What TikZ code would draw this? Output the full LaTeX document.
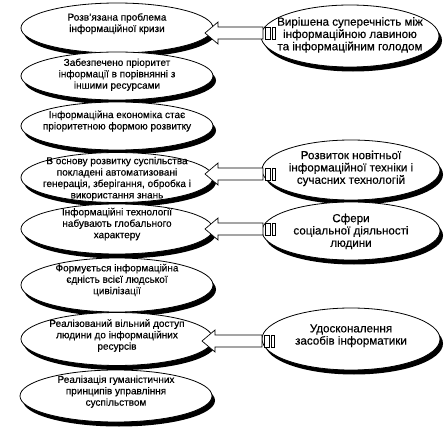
\documentclass[tikz,border=0pt]{standalone}
\usepackage{fontspec}
\setmainfont{Liberation Sans}[FakeBold=0.4]
\usetikzlibrary{shapes.geometric,shadows}
\newcommand\elltext[2][0pt]{\makebox[0pt]{\vbox to 0pt{\vss\hbox{\begin{tabular}{@{}c@{}}#2\end{tabular}}\vss\kern#1}}}
\newcommand\leftfont{\fontsize{10}{11.4}\selectfont}
\newcommand\rightfont{\fontsize{11.6}{12.3}\selectfont}
\newcommand\blockarrow[2][45]{%
  \draw[arrowline] (#2) -- ++(13,11) -- ++(0,-5) -- ++(#1,0) -- ++(0,-12) -- ++(-#1,0) -- ++(0,-5) -- cycle;
  \draw[arrowline] (#2) ++(#1+15.5,6) rectangle ++(5,-12) ++(1.5,12) rectangle ++(3,-12);}
\begin{document}
\begin{tikzpicture}[x=1pt,y=1pt,
  shad/.style={drop shadow={shadow xshift=3pt,shadow yshift=-4.5pt,fill=black,opacity=1}},
  lell/.style={ellipse,draw,fill=white,line width=0.8pt,inner sep=0pt,minimum width=192pt,font=\leftfont,shad},
  rell/.style={ellipse,draw,fill=white,line width=0.8pt,inner sep=0pt,minimum width=178pt,font=\rightfont,shad},
  arrowline/.style={draw=black,fill=white,line width=0.7pt,line join=miter}]
\useasboundingbox (0,0) rectangle (448,-439);
\node[lell,minimum height=50pt] (e1) at (117,-28) {\elltext[8pt]{Розв’язана проблема\\інформаційної кризи}};
\node[lell,minimum height=48pt] (e2) at (117,-76) {\elltext[2pt]{Забезпечено пріоритет\\інформації в порівнянні з\\іншими ресурсами}};
\node[lell,minimum height=48pt] (e3) at (117,-126) {\elltext[9pt]{Інформаційна економіка стає\\пріоритетною формою розвитку}};
\node[lell,minimum height=50pt] (e4) at (117,-177.5) {\elltext[-3pt]{В основу розвитку суспільства\\покладені автоматизовані\\генерація, зберігання, обробка і\\використання знань}};
\node[lell,minimum height=50pt] (e5) at (117,-229) {\elltext[9pt]{Інформаційні технології\\набувають глобального\\характеру}};
\node[lell,minimum height=54pt] (e6) at (117,-285) {\elltext[9pt]{Формується інформаційна\\єдність всієї людської\\цивілізації}};
\node[lell,minimum height=53pt] (e7) at (117,-339) {\elltext[6pt]{Реалізований вільний доступ\\людини до інформаційних\\ресурсів}};
\node[lell,minimum height=52pt] (e8) at (116,-396) {\elltext[8pt]{Реалізація гуманістичних\\принципів управління\\суспільством}};
\node[rell,minimum height=62pt] (r1) at (350,-36) {\elltext[1pt]{Вирішена суперечність між\\інформаційною лавиною\\та інформаційним голодом}};
\node[rell,minimum height=60pt] (r2) at (351,-170) {\elltext[2pt]{Розвиток новітньої\\інформаційної техніки і\\сучасних технологій}};
\node[rell,minimum height=58pt] (r3) at (351,-231) {\elltext[-2pt]{Сфери\\соціальної діяльності\\людини}};
\node[rell,minimum height=62pt] (r4) at (351,-339) {\elltext[6pt]{Удосконалення\\засобів інформатики}};
\coordinate (a1) at (205,-33);
\coordinate (a2) at (205,-174);
\coordinate (a3) at (205,-229);
\coordinate (a4) at (202,-341);
\blockarrow{a1}
\blockarrow{a2}
\blockarrow{a3}
\blockarrow[47]{a4}
\end{tikzpicture}
\end{document}
